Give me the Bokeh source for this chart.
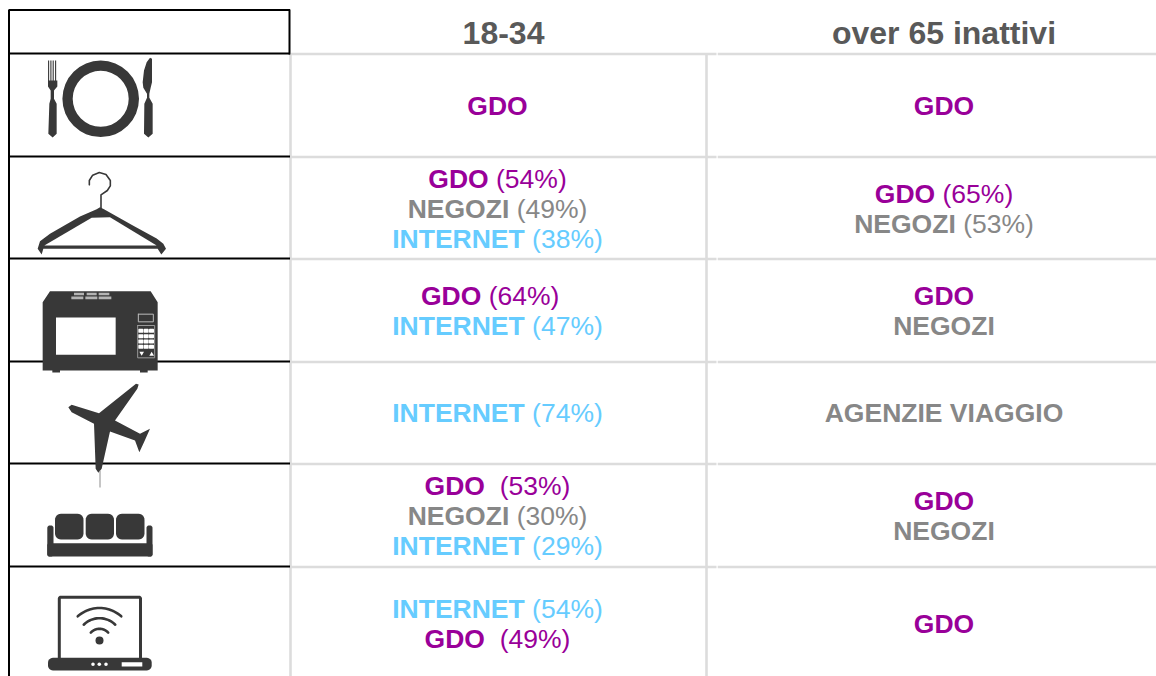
import numpy as np
from bokeh.plotting import figure
from bokeh.embed import file_html
from bokeh.resources import INLINE
from bokeh.core.properties import value

# ---- table content ----
columns = ["18-34", "over 65 inattivi"]
young = [
    [("GDO", "")],
    [("GDO", "(54%)"), ("NEGOZI", "(49%)"), ("INTERNET", "(38%)")],
    [("GDO", "(64%)  "), ("INTERNET", "(47%)")],
    [("INTERNET", "(74%)")],
    [("GDO ", "(53%)"), ("NEGOZI", "(30%)"), ("INTERNET", "(29%)")],
    [("INTERNET", "(54%)"), ("GDO ", "(49%)")],
]
old = [
    [("GDO", "")],
    [("GDO", "(65%)"), ("NEGOZI", "(53%)")],
    [("GDO", ""), ("NEGOZI", "")],
    [("AGENZIE VIAGGIO", "")],
    [("GDO", ""), ("NEGOZI", "")],
    [("GDO", "")],
]
channel_colors = {"GDO": "#990099", "NEGOZI": "#878787", "INTERNET": "#66ccff", "AGENZIE": "#878787"}

# ---- layout (screen pixels) ----
W, H = 1156, 676
FONT = "Liberation Sans"
BODY = 26.5
HEAD = 32
ROW_LINES = [53, 156, 258, 361, 463, 566]
ROW_MID = [106, 209, 311, 413, 516.3, 624]
COL_MID = [497.5, 944]
HEAD_MID = [503.5, 944]
LEAD = 29.8
INK = "#383838"

BOLD = dict(zip("GDONEZITRAV ", [.778, .722, .778, .722, .667, .611, .278, .611, .722, .722, .667, .278]))
REG = {" ": .278, "(": .333, ")": .333, "%": .889, **{d: .556 for d in "0123456789"}}

def width(s, table):
    return sum(table[c] for c in s) * BODY

p = figure(width=W, height=H, x_range=(0.5, W + 0.5), y_range=(H, 0),
           toolbar_location=None, output_backend="svg", min_border=0,
           outline_line_color=None, background_fill_color="white", border_fill_color="white")
p.axis.visible = False
p.grid.visible = False

# ---- grid lines ----
GREY = "#dcdcdc"
for y in ROW_LINES:
    p.segment([291, 717.7], [y + .5] * 2, [716.5, W + 1], [y + .5] * 2, line_color=GREY, line_width=2.6)
p.segment([290.5, 706.5], [54, 54], [290.5, 706.5], [H, H], line_color=GREY, line_width=2.6)
for y in ROW_LINES:
    p.segment([9], [y], [290], [y], line_color="black", line_width=2)
p.segment([9, 9, 289.5], [9.5, 9, 9], [290, 9, 289.5], [9.5, H, 54], line_color="black", line_width=2)

# ---- icon helpers ----
def rrect(x0, y0, x1, y1, r):
    out_x, out_y = [], []
    for cx, cy, a0 in [(x1 - r, y0 + r, -90), (x1 - r, y1 - r, 0), (x0 + r, y1 - r, 90), (x0 + r, y0 + r, 180)]:
        t = np.radians(np.linspace(a0, a0 + 90, 7))
        out_x += list(cx + r * np.cos(t))
        out_y += list(cy + r * np.sin(t))
    return out_x + out_x[:1], out_y + out_y[:1]

def z(points, dy=0):
    # from coordinates on a 3x enlargement to screen pixels
    return [a / 3 for a, _ in points], [(b / 3 + dy) for _, b in points]

def fill(x, y, color=INK):
    p.patch(x, y, fill_color=color, line_color=None)

def stroke(x, y, w, color=INK):
    p.line(x, y, line_color=color, line_width=w, line_cap="round", line_join="round")

# cutlery
p.annulus([100.7], [98.3], inner_radius=28, outer_radius=38.3, fill_color=INK, line_color=None)
for fx in [48.6, 50.9, 53.2, 55.6]:
    p.segment([fx], [60], [fx], [82], line_color=INK, line_width=1.1)
fill(*z([(144, 240), (172, 240), (172, 258), (162, 270), (162, 295), (170, 310), (170, 400), (158, 411), (145, 400), (148, 310), (152, 295), (152, 270), (144, 258)]))
fill(*z([(450, 172), (456, 175), (456, 245), (452, 262), (448, 280), (448, 292), (458, 310), (458, 400), (445, 411), (432, 400), (433, 310), (441, 292), (441, 280), (430, 262), (428, 245), (432, 210), (440, 185)]))

# hanger
stroke(*z([(268, 553), (268, 540), (278, 524), (298, 516), (318, 522), (331, 540), (331, 556), (322, 570), (303, 583), (303, 625)]), 1.6)
fill(*z([(300, 620), (312, 626), (400, 676), (470, 714), (490, 730), (498, 745), (484, 762), (473, 745), (130, 745), (125, 762), (113, 745), (120, 722), (150, 700), (240, 648), (290, 626)]))
fill(*z([(275, 652), (330, 650), (470, 735), (133, 735)]), "white")

# microwave
fill(*z([(128, 125), (150, 92), (452, 92), (473, 125), (473, 330), (443, 330), (443, 336), (420, 336), (420, 330), (180, 330), (180, 336), (157, 336), (157, 330), (128, 330)], 260))
fill(*z([(168, 171), (347, 171), (347, 283), (168, 283)], 260), "white")
for a, b in [(222, 252), (260, 290), (296, 328)]:
    fill(*z([(a, 97), (b, 97), (b, 104), (a, 104)], 260), "#b4b4b4")
for a, b in [(214, 250), (256, 292), (296, 334)]:
    fill(*z([(a, 108), (b, 108), (b, 116), (a, 116)], 260), "#b4b4b4")
stroke(*z([(415, 161), (460, 161), (460, 184), (415, 184), (415, 161)], 260), 1, "#bdbdbd")
stroke(*z([(413, 195), (464, 195), (464, 292), (413, 292), (413, 195)], 260), 1, "#9a9a9a")
for row in range(4):
    for col in range(3):
        kx, ky = 415 + col * 16, 205 + row * 16
        fill(*rrect(kx / 3, (ky / 3) + 260, (kx + 15) / 3, (ky + 12) / 3 + 260, .8), "white")
fill(*z([(418, 274), (432, 274), (425, 286)], 260), "white")
fill(*z([(448, 286), (462, 286), (455, 274)], 260), "white")

# aeroplane
fill(*z([(408, 370), (416, 372), (412, 385), (345, 480), (420, 520), (450, 505), (432, 545), (418, 575), (405, 540), (330, 513), (305, 625), (295, 637), (287, 625), (282, 490), (215, 455), (205, 440), (215, 433), (297, 458)], 260))
p.segment([100], [470], [100], [487], line_color="#8c8c8c", line_width=1)

# sofa
fill(*rrect(47.3, 525, 53.5, 556, 2.5))
fill(*rrect(146.5, 525, 152.5, 556, 2.5))
fill(*rrect(47.3, 542.7, 152.5, 556, 2))
for a, b in [(55, 83.5), (85.7, 114), (116, 144.5)]:
    fill(*rrect(a, 513.3, b, 539, 6))

# laptop
stroke(*rrect(59.3, 596.7, 140.5, 662, 1.5), 3)
fill(*rrect(48, 657.3, 151.7, 670, 5))
p.circle([93, 99.3, 106], [663.7] * 3, radius=1.8, fill_color="white", line_color=None)
fill(*rrect(121.7, 661.7, 142.3, 666, 0), "white")
p.circle([99.5], [640], radius=4, fill_color=INK, line_color=None)
for r, span in [(11.7, 48), (22.3, 45), (32.5, 42)]:
    a = np.radians(np.linspace(-90 - span, -90 + span, 25))
    stroke(list(99.5 + r * np.cos(a)), list(640 + r * np.sin(a)), 2.6)

# ---- texts ----
p.text(HEAD_MID, [45 - .39 * HEAD] * 2, text=columns, text_align="center", text_baseline="alphabetic",
       text_font=value(FONT), text_font_style="bold", text_font_size=f"{HEAD}px", text_color="#595959")

bx, by, bt, bc, rx, ry, rt, rc = [], [], [], [], [], [], [], []
for col_mid, cells in zip(COL_MID, [young, old]):
    for mid, lines in zip(ROW_MID, cells):
        top = mid - LEAD * (len(lines) - 1) / 2
        for i, (label, pct) in enumerate(lines):
            base = top + i * LEAD + 9.6 - .39 * BODY
            w_b = width(label, BOLD)
            w_r = width(" " + pct, REG) if pct else 0
            x0 = col_mid - (w_b + w_r) / 2
            color = channel_colors[label.split()[0]]
            bx.append(x0); by.append(base); bt.append(label); bc.append(color)
            if pct:
                rx.append(x0 + w_b + BODY * .278); ry.append(base); rt.append(pct); rc.append(color)

p.text(bx, by, text=bt, text_color=bc, text_align="left", text_baseline="alphabetic",
       text_font=value(FONT), text_font_style="bold", text_font_size=f"{BODY}px")
p.text(rx, ry, text=rt, text_color=rc, text_align="left", text_baseline="alphabetic",
       text_font=value(FONT), text_font_size=f"{BODY}px")

open("out.html", "w").write(file_html(p, INLINE))
